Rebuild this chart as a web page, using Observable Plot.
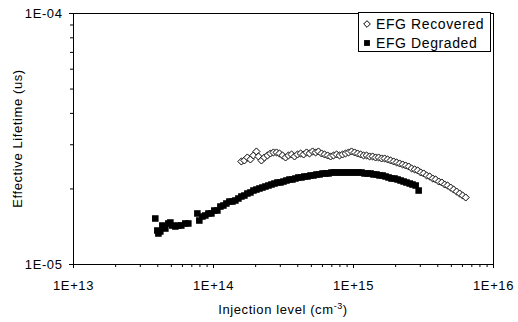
<!DOCTYPE html>
<html><head><meta charset="utf-8">
<script src="https://cdn.jsdelivr.net/npm/d3@7"></script>
<script src="https://cdn.jsdelivr.net/npm/@observablehq/plot@0.6"></script>
<style>
body{margin:0;background:#fff;}
#chart{position:relative;width:518px;height:322px;font-family:"Liberation Sans",Arial,sans-serif;}
#legend{position:absolute;left:358px;top:12px;width:131px;height:38px;border:1px solid #000;background:#fff;}
#legend svg{display:block;}
</style></head><body><div id="chart"></div>
<script>
// Series names
const seriesNames = ["EFG Recovered", "EFG Degraded"];

// EFG Recovered (open diamonds): injection level (cm^-3), effective lifetime
const recoveredX = [1.582e14,1.662e14,1.746e14,1.835e14,1.928e14,2.026e14,2.095e14,2.20e14,2.31e14,2.43e14,2.55e14,2.68e14,2.82e14,2.96e14,3.11e14,3.27e14,3.43e14,3.61e14,3.79e14,3.98e14,4.19e14,4.40e14,4.62e14,4.85e14,5.10e14,5.36e14,5.62e14,5.91e14,6.21e14,6.53e14,6.86e14,7.20e14,7.57e14,7.95e14,8.35e14,8.77e14,9.22e14,9.68e14,1.018e15,1.069e15,1.124e15,1.180e15,1.240e15,1.303e15,1.369e15,1.438e15,1.511e15,1.588e15,1.668e15,1.752e15,1.841e15,1.935e15,2.033e15,2.135e15,2.244e15,2.357e15,2.477e15,2.602e15,2.735e15,2.873e15,3.02e15,3.17e15,3.33e15,3.50e15,3.68e15,3.86e15,4.06e15,4.27e15,4.48e15,4.70e15,4.94e15,5.19e15,5.45e15,5.73e15,6.02e15,6.33e15];
const recoveredY = [2.573e-5,2.597e-5,2.669e-5,2.621e-5,2.719e-5,2.820e-5,2.694e-5,2.597e-5,2.669e-5,2.719e-5,2.769e-5,2.795e-5,2.795e-5,2.769e-5,2.719e-5,2.669e-5,2.719e-5,2.744e-5,2.694e-5,2.744e-5,2.769e-5,2.744e-5,2.795e-5,2.769e-5,2.820e-5,2.795e-5,2.820e-5,2.769e-5,2.744e-5,2.719e-5,2.694e-5,2.719e-5,2.744e-5,2.719e-5,2.744e-5,2.769e-5,2.795e-5,2.820e-5,2.795e-5,2.769e-5,2.744e-5,2.719e-5,2.719e-5,2.694e-5,2.694e-5,2.669e-5,2.669e-5,2.645e-5,2.645e-5,2.621e-5,2.597e-5,2.573e-5,2.550e-5,2.526e-5,2.503e-5,2.480e-5,2.457e-5,2.413e-5,2.391e-5,2.369e-5,2.326e-5,2.305e-5,2.263e-5,2.242e-5,2.201e-5,2.181e-5,2.141e-5,2.122e-5,2.083e-5,2.064e-5,2.026e-5,1.989e-5,1.953e-5,1.918e-5,1.883e-5,1.849e-5];

// EFG Degraded (filled squares)
const degradedX = [3.84e13,3.97e13,4.04e13,4.17e13,4.31e13,4.53e13,4.76e13,4.92e13,5.08e13,5.34e13,5.61e13,5.89e13,6.29e13,6.61e13,7.67e13,7.92e13,8.33e13,8.75e13,9.20e13,9.66e13,1.014e14,1.066e14,1.12e14,1.177e14,1.236e14,1.299e14,1.365e14,1.433e14,1.506e14,1.582e14,1.662e14,1.746e14,1.835e14,1.928e14,2.026e14,2.128e14,2.236e14,2.349e14,2.469e14,2.594e14,2.725e14,2.863e14,3.008e14,3.16e14,3.32e14,3.49e14,3.66e14,3.85e14,4.04e14,4.25e14,4.46e14,4.69e14,4.93e14,5.18e14,5.44e14,5.72e14,6.01e14,6.31e14,6.63e14,6.96e14,7.32e14,7.69e14,8.07e14,8.48e14,8.91e14,9.37e14,9.84e14,1.034e15,1.086e15,1.141e15,1.199e15,1.26e15,1.324e15,1.39e15,1.46e15,1.535e15,1.613e15,1.694e15,1.78e15,1.87e15,1.965e15,2.065e15,2.17e15,2.28e15,2.39e15,2.52e15,2.64e15,2.78e15,2.92e15];
const degradedY = [1.525e-5,1.366e-5,1.329e-5,1.354e-5,1.430e-5,1.391e-5,1.457e-5,1.470e-5,1.430e-5,1.417e-5,1.430e-5,1.430e-5,1.457e-5,1.457e-5,1.597e-5,1.497e-5,1.553e-5,1.568e-5,1.597e-5,1.597e-5,1.641e-5,1.641e-5,1.702e-5,1.718e-5,1.750e-5,1.782e-5,1.782e-5,1.799e-5,1.832e-5,1.866e-5,1.883e-5,1.918e-5,1.936e-5,1.971e-5,1.989e-5,2.008e-5,2.026e-5,2.045e-5,2.064e-5,2.083e-5,2.102e-5,2.122e-5,2.122e-5,2.141e-5,2.161e-5,2.181e-5,2.181e-5,2.201e-5,2.222e-5,2.222e-5,2.242e-5,2.242e-5,2.263e-5,2.263e-5,2.284e-5,2.284e-5,2.305e-5,2.305e-5,2.305e-5,2.326e-5,2.326e-5,2.326e-5,2.326e-5,2.326e-5,2.326e-5,2.326e-5,2.326e-5,2.326e-5,2.326e-5,2.326e-5,2.305e-5,2.305e-5,2.305e-5,2.284e-5,2.284e-5,2.263e-5,2.263e-5,2.242e-5,2.222e-5,2.201e-5,2.201e-5,2.181e-5,2.161e-5,2.141e-5,2.122e-5,2.102e-5,2.083e-5,2.064e-5,1.971e-5];

// Axis ticks and labels
const xMajorTicks = [1e13, 1e14, 1e15, 1e16];
const xTickLabels = ["1E+13", "1E+14", "1E+15", "1E+16"];
const xMinorTicks = [2e13,3e13,4e13,5e13,6e13,7e13,8e13,9e13,2e14,3e14,4e14,5e14,6e14,7e14,8e14,9e14,2e15,3e15,4e15,5e15,6e15,7e15,8e15,9e15];
const yMajorTicks = [1e-5, 1e-4];
const yTickLabels = ["1E-05", "1E-04"];
const yMinorTicks = [2e-5,3e-5,4e-5,5e-5,6e-5,7e-5,8e-5,9e-5];
const xTitle = "Injection level (cm";
const xTitleSup = "-3";
const yTitle = "Effective Lifetime (us)";

const recovered = recoveredX.map((x, i) => ({x, y: recoveredY[i]}));
const degraded = degradedX.map((x, i) => ({x, y: degradedY[i]}));

const plot = Plot.plot({
  width: 518, height: 322,
  marginLeft: 73, marginRight: 25, marginTop: 13, marginBottom: 58,
  style: {fontFamily: "'Liberation Sans', Arial, sans-serif", fontSize: "13px", background: "white", color: "black", overflow: "visible", letterSpacing: "0.6px"},
  x: {type: "log", domain: [1e13, 1e16]},
  y: {type: "log", domain: [1e-5, 1e-4]},
  marks: [
    Plot.frame({stroke: "black", strokeWidth: 1}),
    Plot.axisX(xMinorTicks, {tickSize: 3, tickFormat: () => "", label: null, stroke: "black", strokeWidth: 1}),
    Plot.axisX(xMajorTicks, {tickSize: 4, tickPadding: 12, tickFormat: d => xTickLabels[xMajorTicks.indexOf(d)], label: null, stroke: "black", strokeWidth: 1}),
    Plot.axisY(yMinorTicks, {tickSize: 3, tickFormat: () => "", label: null, stroke: "black", strokeWidth: 1}),
    Plot.axisY(yMajorTicks, {tickSize: 4, tickPadding: 7, tickFormat: d => yTickLabels[yMajorTicks.indexOf(d)], label: null, stroke: "black", strokeWidth: 1}),
    Plot.dot(degraded, {x: "x", y: "y", symbol: "square", r: 3.7, fill: "black", stroke: "none"}),
    Plot.dot(recovered, {x: "x", y: "y", symbol: "diamond2", r: 3.2, fill: "white", stroke: "black", strokeWidth: 1})
  ]
});

const svg = d3.select(plot);
svg.append("text")
  .attr("transform", "translate(22,138.5) rotate(-90)")
  .attr("text-anchor", "middle")
  .attr("fill", "black")
  .attr("font-size", 13)
  .text(yTitle);
const xt = svg.append("text")
  .attr("x", 283).attr("y", 314)
  .attr("text-anchor", "middle")
  .attr("fill", "black")
  .attr("font-size", 13);
xt.append("tspan").text(xTitle);
xt.append("tspan").attr("font-size", 9).attr("dy", -5).text(xTitleSup);
xt.append("tspan").attr("dy", 5).text(")");

const chart = document.getElementById("chart");
chart.appendChild(plot);

// Legend box inside plot area
const legend = d3.select(chart).append("div").attr("id", "legend");
const lsvg = legend.append("svg").attr("width", 131).attr("height", 38)
  .style("font-family", "'Liberation Sans', Arial, sans-serif").style("font-size", "14px").style("letter-spacing", "0.6px");
seriesNames.forEach((name, i) => {
  const g = lsvg.append("g").attr("transform", `translate(0,${i === 0 ? 11 : 30})`);
  if (i === 0) {
    g.append("path").attr("d", d3.symbol(d3.symbolDiamond2, Math.PI * 9)()).attr("transform", "translate(8,0)")
      .attr("fill", "white").attr("stroke", "black");
  } else {
    g.append("path").attr("d", d3.symbol(d3.symbolSquare, Math.PI * 3.3 * 3.3)()).attr("transform", "translate(8,0)")
      .attr("fill", "black");
  }
  g.append("text").attr("x", 17).attr("y", 5).attr("fill", "black").text(name);
});
</script>
</body></html>
